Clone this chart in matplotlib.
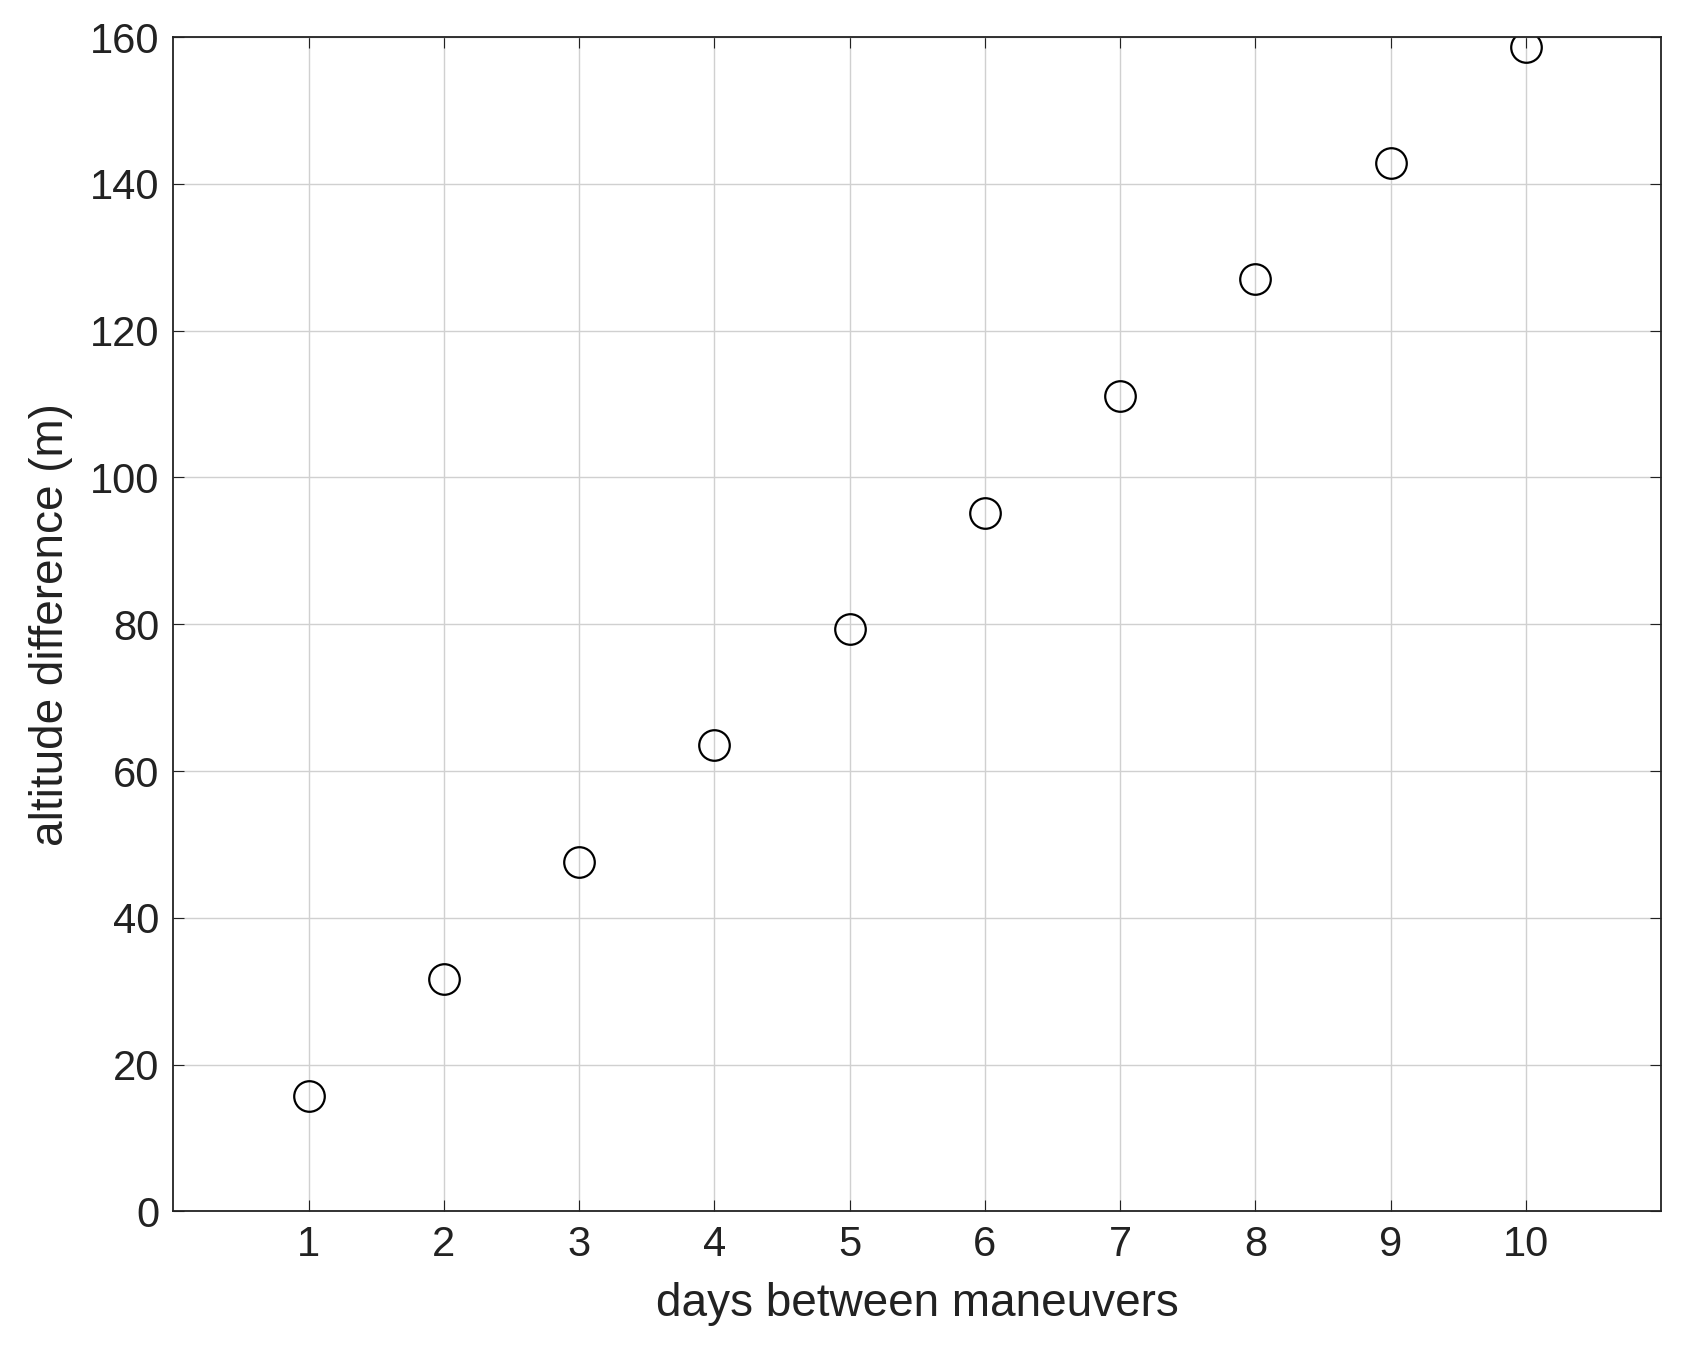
import matplotlib
matplotlib.use("Agg")
import matplotlib.pyplot as plt

days = [1, 2, 3, 4, 5, 6, 7, 8, 9, 10]
alt_diff = [15.8, 31.7, 47.6, 63.5, 79.3, 95.2, 111.1, 127.0, 142.8, 158.7]

plt.rcParams["font.family"] = ["Liberation Sans", "DejaVu Sans"]
fig = plt.figure(figsize=(16.83, 13.72), dpi=100)
ax = fig.add_axes([0.103, 0.117, 0.884, 0.856])
ax.plot(days, alt_diff, "o", mfc="none", mec="black", ms=22, mew=1.6)
ax.set_xlim(0, 11)
ax.set_ylim(0, 160)
ax.set_xticks(days)
ax.set_yticks(range(0, 161, 20))
ax.grid(True, color="#d0d0d0", lw=1.0)
ax.tick_params(direction="in", labelsize=30, colors="#222222", length=8, top=True, right=True,
               labeltop=False, labelright=False, pad=10)
for s in ax.spines.values():
    s.set_linewidth(1.3)
    s.set_color("#222222")
ax.set_xlabel("days between maneuvers", fontsize=33, color="#222222", labelpad=12)
ax.set_ylabel("altitude difference (m)", fontsize=33, color="#222222", labelpad=12)
fig.savefig("out.png", dpi=100)
